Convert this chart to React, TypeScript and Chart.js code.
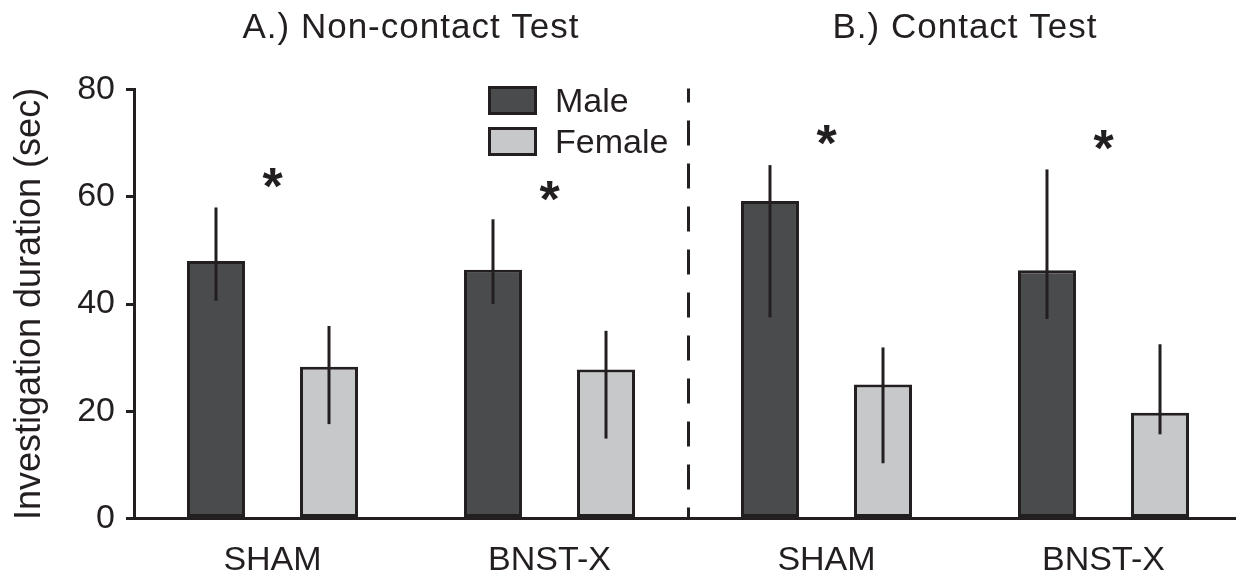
import React, { useEffect, useRef } from 'react';
import { Chart, registerables } from 'chart.js';

Chart.register(...registerables);

const categories = ['SHAM', 'BNST-X', 'SHAM', 'BNST-X'];
const panelTitles = ['A.) Non-contact Test', 'B.) Contact Test'];
const seriesNames = ['Male', 'Female'];
const maleMeans = [48.0, 46.4, 59.2, 46.3];
const maleLow = [40.6, 40.0, 37.5, 37.2];
const maleHigh = [58.0, 55.8, 65.9, 65.1];
const femaleMeans = [28.3, 27.8, 25.0, 19.7];
const femaleLow = [17.6, 14.9, 10.3, 15.7];
const femaleHigh = [35.9, 35.0, 31.9, 32.5];
const sigMarks = [63.5, 61.0, 71.5, 70.5];
const yTicks = [0, 20, 40, 60, 80];
const yTitle = 'Investigation duration (sec)';

const INK = '#231f20';
const MALE_FILL = '#4a4b4d';
const FEMALE_FILL = '#c7c8ca';
const FAMILY = '"Liberation Sans", Arial, Helvetica, sans-serif';

const overlay = {
  id: 'overlay',
  afterDatasetsDraw(chart: any) {
    const ctx = chart.ctx;
    const y = chart.scales.y;
    const ranges = [
      [maleLow, maleHigh],
      [femaleLow, femaleHigh],
    ];
    ranges.forEach(([lo, hi], di) => {
      const meta = chart.getDatasetMeta(di);
      meta.data.forEach((bar: any, i: number) => {
        ctx.save();
        ctx.strokeStyle = INK;
        ctx.lineWidth = 3;
        ctx.lineCap = 'butt';
        ctx.beginPath();
        ctx.moveTo(bar.x, y.getPixelForValue(lo[i]));
        ctx.lineTo(bar.x, y.getPixelForValue(hi[i]));
        ctx.stroke();
        ctx.restore();
      });
    });
  },
  afterDraw(chart: any) {
    const ctx = chart.ctx;
    const x = chart.scales.x;
    const y = chart.scales.y;
    const mid = (a: number, b: number) => (x.getPixelForValue(a) + x.getPixelForValue(b)) / 2;

    // dashed divider between the two tests
    const dx = Math.round(mid(1, 2)) + 0.5;
    ctx.save();
    ctx.strokeStyle = INK;
    ctx.lineWidth = 3;
    ctx.setLineDash([25, 18]);
    ctx.lineDashOffset = 14;
    ctx.beginPath();
    ctx.moveTo(dx, y.getPixelForValue(0));
    ctx.lineTo(dx, y.getPixelForValue(80) - 1);
    ctx.stroke();
    ctx.restore();

    // panel titles
    ctx.save();
    ctx.fillStyle = INK;
    ctx.font = `35px ${FAMILY}`;
    (ctx as any).letterSpacing = '1px';
    ctx.textAlign = 'center';
    ctx.textBaseline = 'middle';
    ctx.fillText(panelTitles[0], mid(0, 1), 28);
    ctx.fillText(panelTitles[1], mid(2, 3), 28);
    (ctx as any).letterSpacing = '0px';
    ctx.restore();

    // significance asterisks
    ctx.save();
    ctx.fillStyle = INK;
    ctx.font = `bold 52px ${FAMILY}`;
    ctx.textAlign = 'center';
    ctx.textBaseline = 'alphabetic';
    const m = ctx.measureText('*');
    const asc = m.actualBoundingBoxAscent;
    const desc = m.actualBoundingBoxDescent;
    sigMarks.forEach((v, i) => {
      const cy = y.getPixelForValue(v);
      const base = cy - (desc - asc) / 2;
      ctx.fillText('*', x.getPixelForValue(i), base);
    });
    ctx.restore();

    // legend
    const fills = [MALE_FILL, FEMALE_FILL];
    const boxX = 488;
    const boxW = 49;
    const boxH = 29;
    const boxTops = [86, 127];
    ctx.save();
    seriesNames.forEach((name, i) => {
      const top = boxTops[i];
      ctx.fillStyle = fills[i];
      ctx.fillRect(boxX, top, boxW, boxH);
      ctx.strokeStyle = INK;
      ctx.lineWidth = 3;
      ctx.strokeRect(boxX + 1.5, top + 1.5, boxW - 3, boxH - 3);
      ctx.fillStyle = INK;
      ctx.font = `34px ${FAMILY}`;
      ctx.textAlign = 'left';
      ctx.textBaseline = 'middle';
      ctx.fillText(name, 555, top + boxH / 2 + 2);
    });
    ctx.restore();
  },
};

export default function App() {
  const canvasRef = useRef<HTMLCanvasElement | null>(null);

  useEffect(() => {
    const canvas = canvasRef.current;
    if (!canvas) return;
    Chart.defaults.font.family = FAMILY;
    Chart.defaults.color = INK;
    const chart = new Chart(canvas, {
      type: 'bar',
      data: {
        labels: categories,
        datasets: [
          {
            label: seriesNames[0],
            data: maleMeans,
            backgroundColor: MALE_FILL,
            borderColor: INK,
            borderWidth: 3,
            borderSkipped: false,
            categoryPercentage: 0.816,
            barPercentage: 0.513,
          },
          {
            label: seriesNames[1],
            data: femaleMeans,
            backgroundColor: FEMALE_FILL,
            borderColor: INK,
            borderWidth: 3,
            borderSkipped: false,
            categoryPercentage: 0.816,
            barPercentage: 0.513,
          },
        ],
      },
      options: {
        animation: false,
        responsive: false,
        layout: { padding: { top: 89.5, left: 0, right: 0, bottom: 0 } },
        plugins: {
          legend: { display: false },
          tooltip: { enabled: false },
          title: { display: false },
        },
        scales: {
          x: {
            type: 'category',
            offset: true,
            grid: { display: false, drawTicks: false },
            border: { display: true, color: INK, width: 3 },
            ticks: {
              color: INK,
              font: { size: 34, family: FAMILY },
              padding: 22,
              maxRotation: 0,
              autoSkip: false,
            },
            afterFit: (s: any) => {
              s.height = 62.5;
            },
          },
          y: {
            min: 0,
            max: 80,
            afterBuildTicks: (s: any) => {
              s.ticks = yTicks.map((v) => ({ value: v }));
            },
            ticks: {
              color: INK,
              font: { size: 34, family: FAMILY },
              padding: 11,
            },
            grid: {
              display: true,
              drawOnChartArea: false,
              drawTicks: true,
              tickLength: 8,
              color: INK,
              lineWidth: 3,
            },
            border: { display: true, color: INK, width: 3 },
            title: {
              display: true,
              text: yTitle,
              color: INK,
              font: { size: 36, family: FAMILY },
              padding: { top: 8, bottom: 0 },
            },
            afterFit: (s: any) => {
              s.width = 134;
            },
          },
        },
      },
      plugins: [overlay],
    } as any);
    return () => chart.destroy();
  }, []);

  return (
    <div
      style={{
        position: 'absolute',
        left: 0,
        top: 0,
        width: 1236,
        height: 581,
        overflow: 'hidden',
        background: '#ffffff',
      }}
    >
      <canvas ref={canvasRef} width={1242} height={581} style={{ display: 'block' }} />
    </div>
  );
}
